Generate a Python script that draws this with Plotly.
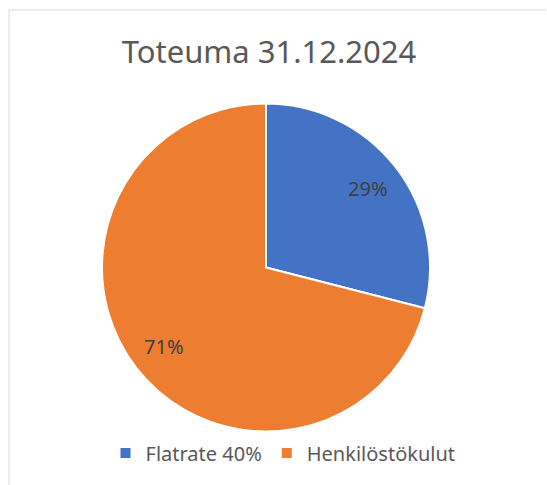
import math
import plotly.graph_objects as go

labels = ['Flatrate 40%', 'Henkilöstökulut']
values = [29, 71]
colors = ['#4472C4', '#ED7D31']
title_text = 'Toteuma 31.12.2024'

W, H = 547, 485
# pie box in pixels (left, top, right, bottom)
px0, py0, px1, py1 = 102, 103, 430, 432
FONT = 'Noto Sans'

fig = go.Figure([
    go.Pie(labels=labels, values=values, sort=False, direction='clockwise', rotation=0,
           marker=dict(colors=colors, line=dict(color='white', width=2)),
           textinfo='none',
           domain=dict(x=[px0 / W, px1 / W], y=[1 - py1 / H, 1 - py0 / H]),
           hoverinfo='label+percent')
])

# data labels at the mid angle of each slice, ~0.79 of the radius
cx = (px0 + px1) / 2
cy = (py0 + py1) / 2
r = min(px1 - px0, py1 - py0) / 2
total = sum(values)
cum = 0
annots = []
for v in values:
    ang = 2 * math.pi * (cum + v / 2) / total
    cum += v
    x = cx + 0.79 * r * math.sin(ang)
    y = cy - 0.79 * r * math.cos(ang)
    annots.append(dict(x=x / W, y=1 - y / H, xref='paper', yref='paper', showarrow=False,
                       xanchor='center', yanchor='middle',
                       text=f'{round(100 * v / total)}%',
                       font=dict(family=FONT, size=20, color='#404040')))

fig.update_layout(
    width=W, height=H,
    margin=dict(l=0, r=0, t=0, b=0),
    paper_bgcolor='white',
    title=dict(text=title_text, x=269 / W, xanchor='center', y=1 - 52 / H, yanchor='middle',
               font=dict(family=FONT, size=31, color='#595959')),
    legend=dict(orientation='h', x=283 / W, xanchor='center', y=1 - 453 / H, yanchor='middle',
                font=dict(family=FONT, size=20, color='#595959'), itemwidth=30),
    annotations=annots,
    shapes=[
        dict(type='line', xref='paper', yref='paper', x0=9 / W, x1=546 / W, y0=1 - 10 / H, y1=1 - 10 / H,
             line=dict(color='#D9D9D9', width=1)),
        dict(type='line', xref='paper', yref='paper', x0=9 / W, x1=9 / W, y0=1 - 10 / H, y1=0,
             line=dict(color='#D9D9D9', width=1)),
    ],
)

fig.write_html("out.html", config={'displayModeBar': False},
               post_script="document.body.style.margin='0';")
